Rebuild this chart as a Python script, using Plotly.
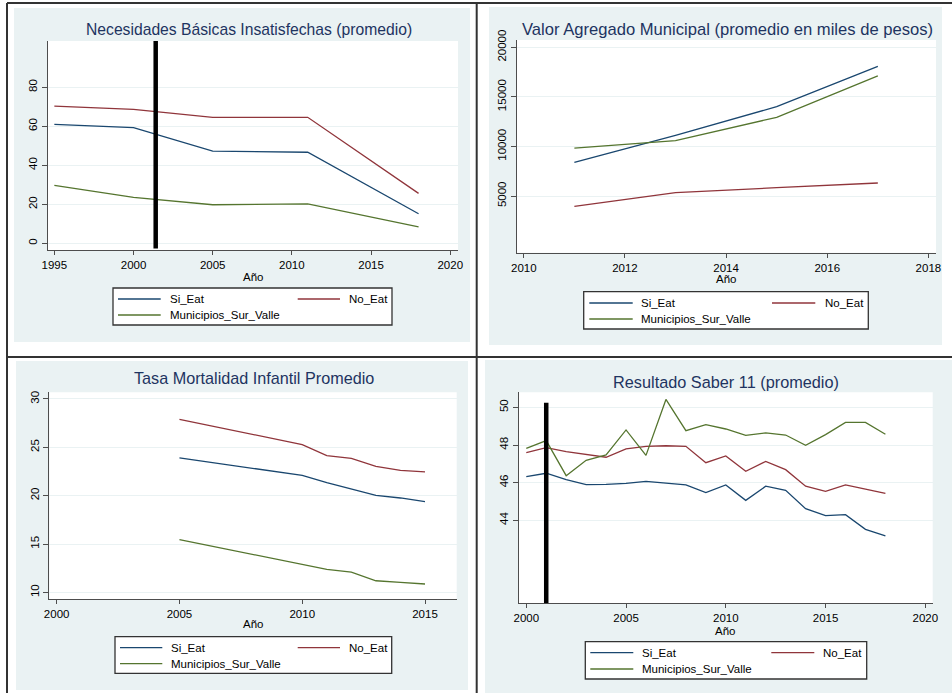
import plotly.graph_objects as go

W, H = 952, 693

# ---------------- data ----------------
series_names = ["Si_Eat", "No_Eat", "Municipios_Sur_Valle"]
series_colors = ["#1a476f", "#90353b", "#55752f"]

# Panel 1: Necesidades Básicas Insatisfechas
nbi_years = [1995, 2000, 2005, 2011, 2018]
nbi_si = [61.0, 59.3, 47.3, 46.7, 15.2]
nbi_no = [70.3, 68.7, 64.6, 64.6, 25.6]
nbi_muni = [29.7, 23.6, 19.8, 20.2, 8.4]
nbi_vline = 2001.4

# Panel 2: Valor Agregado Municipal
va_years = [2011, 2013, 2015, 2017]
va_si = [8400, 11120, 14010, 18080]
va_no = [3960, 5340, 5840, 6310]
va_muni = [9840, 10580, 12940, 17110]

# Panel 3: Tasa Mortalidad Infantil
tmi_years = [2005, 2010, 2011, 2012, 2013, 2014, 2015]
tmi_si = [23.9, 22.1, 21.34, 20.72, 20.03, 19.76, 19.38]
tmi_no = [27.9, 25.28, 24.14, 23.86, 23.03, 22.62, 22.45]
tmi_muni = [15.45, 12.9, 12.38, 12.1, 11.2, 11.03, 10.86]

# Panel 4: Resultado Saber 11
saber_years = list(range(2000, 2019))
saber_si = [46.32, 46.50, 46.16, 45.89, 45.91, 45.96, 46.07, 45.96, 45.88, 45.47,
            45.88, 45.06, 45.81, 45.59, 44.62, 44.25, 44.30, 43.52, 43.17]
saber_no = [47.59, 47.86, 47.65, 47.50, 47.35, 47.79, 47.93, 47.96, 47.93, 47.06,
            47.42, 46.60, 47.13, 46.69, 45.81, 45.54, 45.88, 45.66, 45.43]
saber_muni = [47.82, 48.23, 46.37, 47.19, 47.47, 48.80, 47.45, 50.42, 48.76, 49.08,
              48.85, 48.51, 48.64, 48.53, 47.98, 48.55, 49.20, 49.20, 48.57]
saber_vline = 2001
saber_vline_top = 50.25

titles = ["Necesidades Básicas Insatisfechas (promedio)",
          "Valor Agregado Municipal (promedio en miles de pesos)",
          "Tasa Mortalidad Infantil Promedio",
          "Resultado Saber 11 (promedio)"]
x_title = "Año"

x_ticks = [[1995, 2000, 2005, 2010, 2015, 2020],
           [2010, 2012, 2014, 2016, 2018],
           [2000, 2005, 2010, 2015],
           [2000, 2005, 2010, 2015, 2020]]
y_ticks = [[0, 20, 40, 60, 80],
           [5000, 10000, 15000, 20000],
           [10, 15, 20, 25, 30],
           [44, 46, 48, 50]]

# ---------------- layout geometry (pixels) ----------------
def px(x):
    return x / W

def py(y):
    return 1 - y / H

FONT = "Liberation Sans, Arial, sans-serif"
BG = "#eaf2f3"
TITLE_COLOR = "#1e3461"
AXIS_COLOR = "#4d4d4d"

# plot areas: (x0, x1, ytop, ybottom) in pixels
plot_areas = [(47.7, 458, 41, 250),
              (516.7, 936, 40, 252.7),
              (49.3, 456.7, 392.3, 599.3),
              (518.7, 932.7, 392.3, 603.3)]
x_ranges = [[1994.58, 2020.49], [2009.86, 2018.15], [1999.7, 2016.29], [1999.62, 2020.37]]
y_ranges = [[-3.4, 103.7], [-719, 20737], [9.28, 30.69], [39.59, 50.8]]
panel_bgs = [(14, 470, 8, 342), (489, 942, 7, 345), (16, 468, 361, 690), (485, 952, 360, 693)]
title_pos = [(248.7, 30), (727, 30), (254, 378.3), (725.7, 381.7)]
title_sizes = [15.7, 16.6, 16.2, 16.3]
xtitle_pos = [(252.7, 277), (726, 279), (253.3, 624), (725.3, 630.5)]

# legends: box (x0,x1,y0,y1), rows y, col1 line x0,x1,text x ; col2 line x0,x1,text x
legends = [dict(box=(113, 392, 288, 325), rows=(299, 315), c1=(118, 160.7, 167.7), c2=(297.7, 340, 347.3)),
           dict(box=(583.7, 868.3, 291.7, 329), rows=(303, 319), c1=(589.3, 632.7, 639.3), c2=(772, 815.3, 822.7)),
           dict(box=(115, 391.7, 636.7, 673.3), rows=(647.7, 663.7), c1=(120, 162.3, 169), c2=(297.7, 340, 346.7)),
           dict(box=(585.3, 866.7, 641.7, 679), rows=(652.7, 669), c1=(590.3, 633.3, 640), c2=(771.3, 814.3, 821))]

panels = [(nbi_years, [nbi_si, nbi_no, nbi_muni]),
          (va_years, [va_si, va_no, va_muni]),
          (tmi_years, [tmi_si, tmi_no, tmi_muni]),
          (saber_years, [saber_si, saber_no, saber_muni])]

fig = go.Figure()

shapes = []
annotations = []

# panel backgrounds and white plot areas
for (x0, x1, y0, y1) in panel_bgs:
    shapes.append(dict(type="rect", xref="paper", yref="paper", x0=px(x0), x1=px(x1),
                       y0=py(y1), y1=py(y0), fillcolor=BG, line=dict(width=0), layer="below"))
for (x0, x1, yt, yb) in plot_areas:
    shapes.append(dict(type="rect", xref="paper", yref="paper", x0=px(x0), x1=px(x1),
                       y0=py(yb), y1=py(yt), fillcolor="white", line=dict(width=0), layer="below"))

# dividers / borders
div = dict(color="#333333", width=2)
shapes += [
    dict(type="line", xref="paper", yref="paper", x0=px(7), x1=1, y0=py(3), y1=py(3), line=div),
    dict(type="line", xref="paper", yref="paper", x0=px(7), x1=px(7), y0=0, y1=py(3), line=div),
    dict(type="line", xref="paper", yref="paper", x0=px(476.7), x1=px(476.7), y0=0, y1=py(3), line=div),
    dict(type="line", xref="paper", yref="paper", x0=px(7), x1=1, y0=py(357), y1=py(357), line=div),
]

for i, (years, ys) in enumerate(panels):
    ax = "" if i == 0 else str(i + 1)
    for name, color, vals in zip(series_names, series_colors, ys):
        fig.add_trace(go.Scatter(x=years, y=vals, mode="lines", name=name,
                                 line=dict(color=color, width=1.3),
                                 xaxis="x" + ax, yaxis="y" + ax, showlegend=False))
    x0, x1, yt, yb = plot_areas[i]
    fig.layout["xaxis" + ax] = dict(
        domain=[px(x0), px(x1)], range=x_ranges[i], anchor="y" + ax, automargin=False,
        tickmode="array", tickvals=x_ticks[i], ticktext=[str(v) for v in x_ticks[i]],
        showgrid=False, zeroline=False,
        showline=True, linecolor=AXIS_COLOR, linewidth=1.2, ticks="outside", ticklen=4,
        tickcolor=AXIS_COLOR, tickfont=dict(family=FONT, size=11.5, color="black"))
    fig.layout["yaxis" + ax] = dict(
        domain=[py(yb), py(yt)], range=y_ranges[i], anchor="x" + ax, automargin=False,
        tickmode="array", tickvals=y_ticks[i], ticktext=[str(v) for v in y_ticks[i]],
        showgrid=True, gridcolor="#eaf2f3", gridwidth=1,
        zeroline=False, showline=True, linecolor=AXIS_COLOR, linewidth=1.2, ticks="outside",
        ticklen=5, tickcolor=AXIS_COLOR, tickangle=-90,
        tickfont=dict(family=FONT, size=11.5, color="black"))
    # title
    tx, ty = title_pos[i]
    annotations.append(dict(text=titles[i], x=px(tx), y=py(ty), xref="paper", yref="paper",
                            showarrow=False, xanchor="center", yanchor="middle",
                            font=dict(family=FONT, size=title_sizes[i], color=TITLE_COLOR)))
    ax_x, ax_y = xtitle_pos[i]
    annotations.append(dict(text=x_title, x=px(ax_x), y=py(ax_y), xref="paper", yref="paper",
                            showarrow=False, xanchor="center", yanchor="middle",
                            font=dict(family=FONT, size=11.5, color="black")))
    # legend (manual)
    lg = legends[i]
    bx0, bx1, by0, by1 = lg["box"]
    shapes.append(dict(type="rect", xref="paper", yref="paper", x0=px(bx0), x1=px(bx1),
                       y0=py(by1), y1=py(by0), fillcolor="white",
                       line=dict(color="#333333", width=1.3), layer="below"))
    entries = [(lg["c1"], lg["rows"][0]), (lg["c2"], lg["rows"][0]), (lg["c1"], lg["rows"][1])]
    for (name, color), ((lx0, lx1, tx_), ry) in zip(zip(series_names, series_colors), entries):
        shapes.append(dict(type="line", xref="paper", yref="paper", x0=px(lx0), x1=px(lx1),
                           y0=py(ry), y1=py(ry), line=dict(color=color, width=1.3)))
        annotations.append(dict(text=name, x=px(tx_), y=py(ry), xref="paper", yref="paper",
                                showarrow=False, xanchor="left", yanchor="middle",
                                font=dict(family=FONT, size=11.5, color="black")))

# thick vertical reference lines
shapes.append(dict(type="line", xref="x", yref="y domain", x0=nbi_vline, x1=nbi_vline,
                   y0=0.007, y1=1, line=dict(color="black", width=4.5)))
shapes.append(dict(type="line", xref="x4", yref="y4", x0=saber_vline, x1=saber_vline,
                   y0=y_ranges[3][0], y1=saber_vline_top, line=dict(color="black", width=4.5)))

fig.update_layout(template="none", width=W, height=H, margin=dict(l=0, r=0, t=0, b=0, pad=0),
                  paper_bgcolor="white", plot_bgcolor="rgba(0,0,0,0)",
                  shapes=shapes, annotations=annotations, showlegend=False,
                  font=dict(family=FONT))

fig.write_html("out.html", config={"displayModeBar": False},
               post_script="document.body.style.margin='0';document.body.style.overflow='hidden';")
